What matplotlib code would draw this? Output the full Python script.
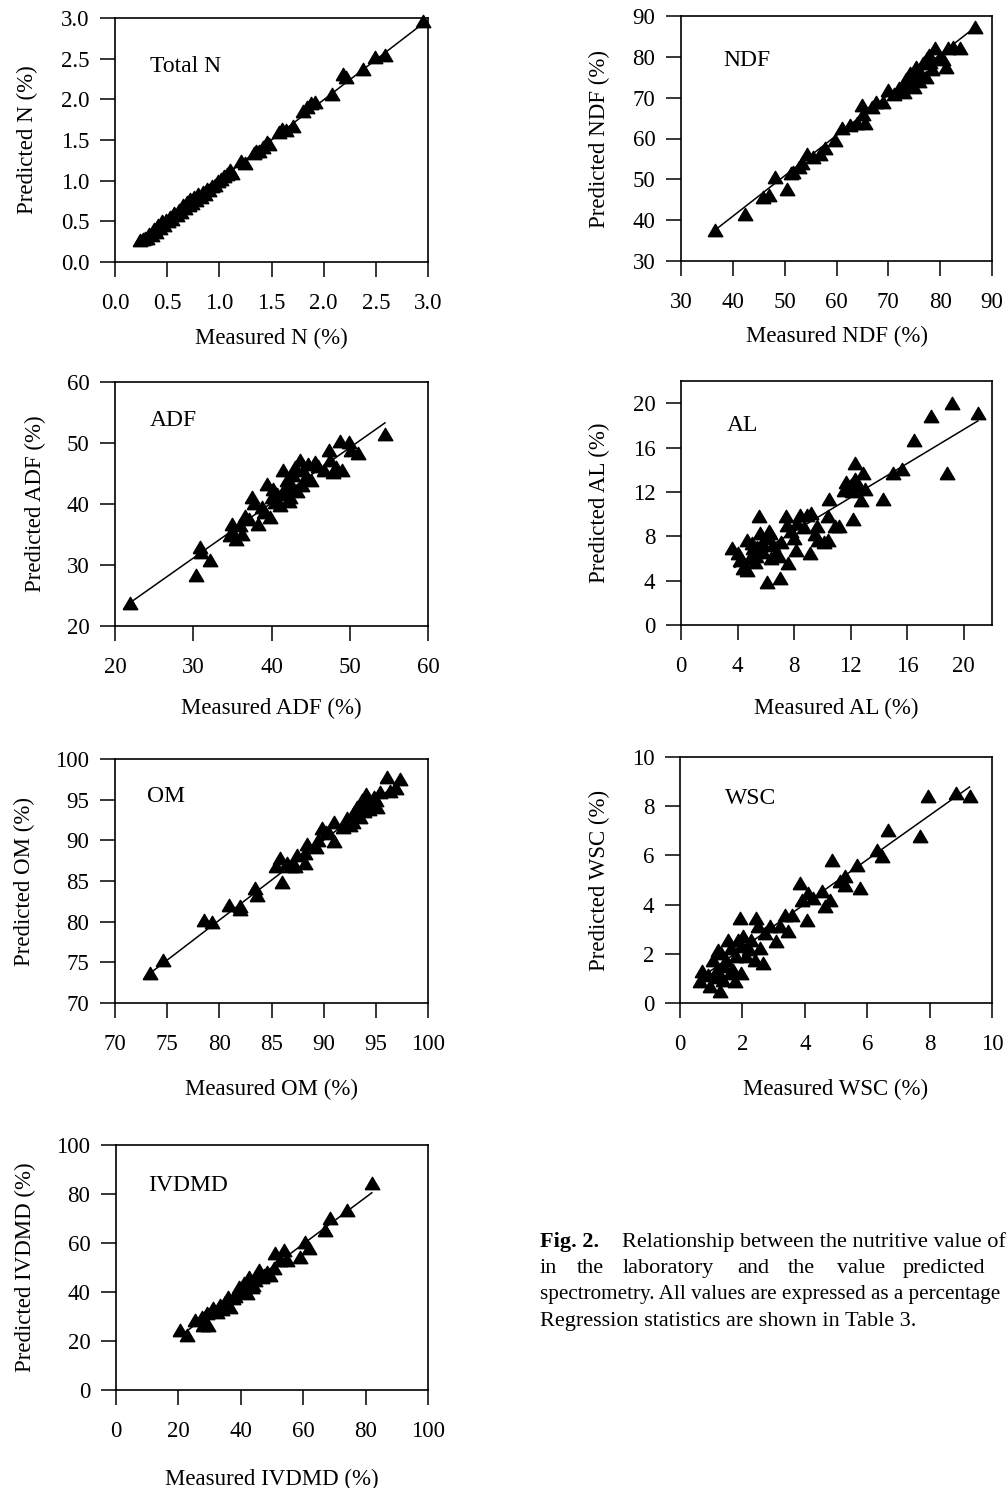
import numpy as np
import matplotlib.pyplot as plt

plt.rcParams["font.family"] = ["Liberation Serif", "DejaVu Serif"]

# ---- data: (measured, predicted) ----
n_points = [
    (0.24, 0.27), (0.27, 0.28), (0.29, 0.30), (0.31, 0.29), (0.33, 0.35), (0.35, 0.33),
    (0.37, 0.40), (0.39, 0.37), (0.41, 0.45), (0.43, 0.42), (0.45, 0.50), (0.47, 0.46),
    (0.49, 0.52), (0.51, 0.50), (0.53, 0.55), (0.55, 0.53), (0.57, 0.60), (0.59, 0.58),
    (0.61, 0.64), (0.63, 0.62), (0.65, 0.70), (0.67, 0.66), (0.69, 0.74), (0.71, 0.70),
    (0.72, 0.78), (0.74, 0.73), (0.76, 0.80), (0.78, 0.76), (0.80, 0.84), (0.82, 0.80),
    (0.84, 0.86), (0.86, 0.84), (0.88, 0.90), (0.90, 0.88), (0.93, 0.94), (0.96, 0.95),
    (0.99, 1.00), (1.02, 1.02), (1.04, 1.06), (1.07, 1.08), (1.10, 1.13), (1.12, 1.10),
    (1.21, 1.24), (1.25, 1.22), (1.33, 1.34), (1.35, 1.37), (1.38, 1.36), (1.42, 1.41),
    (1.46, 1.47), (1.48, 1.45), (1.57, 1.60), (1.60, 1.63), (1.64, 1.62), (1.71, 1.67),
    (1.80, 1.86), (1.84, 1.90), (1.88, 1.95), (1.92, 1.97), (2.08, 2.07), (2.19, 2.31),
    (2.21, 2.27), (2.38, 2.37), (2.49, 2.52), (2.59, 2.54), (2.95, 2.96),
]
ndf_points = [
    (36.6, 37.5), (42.4, 41.6), (45.9, 45.7), (46.9, 46.1), (48.2, 50.6), (50.4, 47.7),
    (51.2, 51.5), (51.7, 51.8), (52.7, 53.1), (53.3, 53.9), (54.3, 56.3), (55.5, 55.5),
    (56.8, 56.3), (57.8, 57.6), (59.7, 59.6), (61.0, 62.5), (62.6, 63.3), (63.9, 63.7),
    (64.9, 68.2), (65.2, 66.1), (65.5, 63.7), (66.8, 67.8), (67.7, 69.0), (69.0, 69.0),
    (70.0, 71.9), (71.0, 71.0), (72.0, 72.3), (72.9, 73.1), (73.5, 74.5), (74.2, 76.0),
    (74.8, 74.3), (75.4, 77.6), (75.0, 72.5), (76.1, 76.4), (76.7, 78.4), (77.2, 75.0),
    (77.4, 79.6), (78.0, 78.8), (78.5, 77.0), (79.0, 82.1), (79.9, 80.0), (81.2, 77.6),
    (81.5, 82.1), (82.5, 82.5), (83.8, 82.1), (86.7, 87.4), (73.0, 71.5), (74.0, 73.0),
    (76.0, 74.0), (77.8, 80.5), (80.5, 79.5),
]
adf_points = [
    (21.9, 23.8), (30.4, 28.3), (30.9, 32.9), (31.0, 32.1), (32.2, 30.8), (34.7, 34.9),
    (34.9, 36.8), (35.4, 34.3), (35.0, 35.5), (36.2, 35.1), (36.6, 38.1), (37.1, 37.6),
    (37.5, 41.1), (37.7, 40.1), (38.3, 36.8), (39.0, 38.7), (39.4, 43.3), (39.8, 37.9),
    (40.0, 41.1), (40.4, 40.3), (40.7, 41.7), (41.1, 39.8), (41.5, 45.5), (41.8, 42.5),
    (42.0, 43.9), (42.2, 40.5), (42.4, 41.1), (42.8, 44.7), (43.0, 46.1), (43.3, 42.2),
    (43.7, 47.2), (43.9, 43.1), (44.3, 44.2), (44.7, 46.6), (45.6, 46.9), (46.7, 45.5),
    (47.3, 48.8), (47.5, 47.2), (47.9, 45.2), (48.8, 50.4), (49.0, 45.5), (49.9, 50.2),
    (50.1, 48.8), (51.1, 48.3), (54.5, 51.5), (36.0, 36.5), (38.8, 39.5), (40.2, 42.5),
    (41.3, 41.8), (42.6, 43.0), (44.0, 45.5), (45.0, 44.0), (46.0, 46.3), (48.2, 46.0),
]
al_points = [
    (3.6, 6.9), (4.0, 6.5), (4.2, 5.9), (4.4, 5.1), (4.7, 5.0), (4.7, 7.7), (5.0, 7.4),
    (5.1, 6.9), (5.2, 5.7), (5.5, 9.8), (5.6, 8.3), (5.7, 7.4), (5.8, 6.6), (6.1, 3.9),
    (6.3, 8.3), (6.5, 7.2), (6.7, 6.5), (6.4, 6.0), (7.0, 4.2), (7.1, 7.5), (7.4, 9.8),
    (7.5, 9.0), (7.6, 5.6), (8.0, 7.8), (8.1, 6.8), (8.2, 9.2), (8.4, 9.9), (8.9, 9.9),
    (9.2, 10.1), (9.1, 6.5), (9.6, 8.9), (9.7, 7.7), (10.1, 7.5), (10.4, 7.7), (10.4, 9.8),
    (10.5, 11.4), (10.9, 8.9), (11.2, 8.9), (11.7, 12.9), (12.0, 12.6), (12.2, 9.6),
    (12.3, 14.6), (12.3, 13.2), (12.5, 12.5), (12.7, 11.3), (12.9, 13.7), (13.0, 12.3),
    (14.3, 11.4), (15.0, 13.7), (15.6, 14.1), (16.5, 16.7), (17.7, 18.8), (18.8, 13.7),
    (19.2, 20.0), (21.0, 19.1), (4.9, 6.0), (5.4, 7.0), (6.0, 7.8), (6.9, 6.2), (7.8, 8.5),
    (8.7, 8.8), (9.5, 8.2), (11.5, 12.2), (12.1, 12.1), (6.2, 8.5), (5.3, 6.2),
]
om_points = [
    (73.4, 73.7), (74.6, 75.3), (78.5, 80.2), (79.3, 80.0), (80.9, 82.1), (82.0, 81.5),
    (82.0, 81.9), (83.4, 84.1), (83.6, 83.3), (85.4, 86.8), (85.8, 87.8), (86.0, 84.9),
    (86.5, 87.2), (86.9, 86.8), (87.3, 86.8), (87.4, 88.2), (88.2, 87.2), (88.2, 88.4),
    (88.4, 89.6), (89.3, 89.2), (89.5, 90.0), (89.8, 91.5), (90.5, 90.9), (91.0, 89.9),
    (91.0, 92.3), (91.9, 91.7), (92.2, 92.7), (92.5, 91.9), (92.9, 93.5), (93.2, 94.1),
    (93.5, 92.9), (93.7, 94.9), (94.0, 94.3), (94.1, 95.7), (94.5, 94.7), (94.8, 95.3),
    (95.1, 94.1), (95.4, 95.9), (96.1, 97.8), (96.4, 96.1), (96.9, 96.4), (97.3, 97.6),
    (90.2, 91.0), (92.8, 92.2), (93.9, 93.6), (94.3, 93.8), (95.0, 95.0),
]
wsc_points = [
    (0.69, 1.29), (0.64, 0.88), (0.91, 1.15), (0.96, 0.68), (1.07, 1.76), (1.17, 1.36),
    (1.28, 0.47), (1.23, 2.17), (1.33, 2.03), (1.39, 0.95), (1.49, 1.76), (1.55, 2.57),
    (1.65, 2.24), (1.71, 1.36), (1.76, 0.88), (1.81, 1.90), (1.92, 3.46), (1.97, 2.30),
    (1.97, 1.22), (2.03, 2.71), (2.13, 1.90), (2.29, 2.57), (2.40, 1.76), (2.45, 3.46),
    (2.51, 3.12), (2.56, 2.24), (2.67, 1.63), (2.72, 2.85), (2.88, 3.12), (3.09, 2.51),
    (3.20, 3.12), (3.36, 3.59), (3.47, 2.91), (3.58, 3.59), (3.84, 4.88), (3.90, 4.20),
    (4.06, 3.39), (4.11, 4.47), (4.27, 4.27), (4.54, 4.54), (4.64, 3.93), (4.80, 4.20),
    (4.86, 5.83), (5.12, 4.95), (5.28, 5.15), (5.28, 4.81), (5.66, 5.62), (5.76, 4.67),
    (6.30, 6.23), (6.46, 5.96), (6.67, 7.05), (7.68, 6.78), (7.95, 8.40), (8.86, 8.54),
    (9.28, 8.40), (1.40, 1.50), (1.60, 1.20), (1.85, 2.55), (2.20, 2.20), (1.15, 1.05),
]
ivdmd_points = [
    (20.5, 24.5), (22.7, 22.4), (25.3, 28.6), (27.5, 29.9), (28.0, 26.5), (29.6, 26.5),
    (29.1, 31.3), (31.2, 33.3), (32.3, 32.0), (33.4, 34.7), (35.0, 36.1), (36.0, 38.1),
    (36.6, 34.0), (37.6, 37.4), (38.7, 40.1), (39.3, 42.2), (40.3, 40.8), (40.9, 43.5),
    (41.9, 39.5), (42.5, 46.3), (43.5, 42.2), (44.6, 44.9), (45.7, 49.0), (46.7, 46.3),
    (48.3, 48.3), (49.4, 46.9), (50.5, 49.7), (51.0, 55.8), (52.6, 53.1), (53.7, 57.1),
    (54.8, 53.1), (59.0, 54.4), (60.6, 60.5), (61.7, 57.8), (67.1, 65.3), (68.7, 70.1),
    (74.0, 73.5), (82.0, 84.4), (38.0, 38.5), (34.0, 33.0), (44.0, 43.0), (47.5, 47.0),
]

# regression line end points (measured, predicted)
n_fit = [(0.24, 0.26), (2.95, 2.93)]
ndf_fit = [(36.6, 37.6), (86.7, 87.2)]
adf_fit = [(21.9, 23.8), (54.5, 53.3)]
al_fit = [(3.8, 5.2), (21.0, 18.4)]
om_fit = [(73.4, 73.7), (97.3, 97.2)]
wsc_fit = [(0.64, 1.0), (9.28, 8.78)]
ivdmd_fit = [(20.5, 22.0), (82.0, 80.5)]

W, H = 1006, 1488
fig = plt.figure(figsize=(W / 100, H / 100), dpi=100)

# frame in pixels: left, top, right, bottom ; title position ; label coords
panels = [
    ("Total N", "N", n_points, n_fit, (0, 3), np.arange(0, 3.01, 0.5), "{:.1f}",
     (115, 18, 428, 262), (0.112, 0.803), -0.270, -0.246),
    ("NDF", "NDF", ndf_points, ndf_fit, (30, 90), np.arange(30, 91, 10), "{:.0f}",
     (681, 16, 992, 261), (0.135, 0.820), -0.265, -0.229),
    ("ADF", "ADF", adf_points, adf_fit, (20, 60), np.arange(20, 61, 10), "{:.0f}",
     (115, 382, 428, 626), (0.112, 0.844), -0.295, -0.221),
    ("AL", "AL", al_points, al_fit, (0, 22), np.arange(0, 21, 4), "{:.0f}",
     (681, 381, 992, 625), (0.148, 0.819), -0.299, -0.229),
    ("OM", "OM", om_points, om_fit, (70, 100), np.arange(70, 101, 5), "{:.0f}",
     (115, 759, 428, 1003), (0.102, 0.848), -0.311, -0.255),
    ("WSC", "WSC", wsc_points, wsc_fit, (0, 10), np.arange(0, 11, 2), "{:.0f}",
     (680, 757, 992, 1003), (0.144, 0.833), -0.309, -0.225),
    ("IVDMD", "IVDMD", ivdmd_points, ivdmd_fit, (0, 100), np.arange(0, 101, 20), "{:.0f}",
     (116, 1145, 428, 1390), (0.103, 0.836), -0.320, -0.256),
]

tri = [(-1, -0.85), (1, -0.85), (0, 0.85), (-1, -0.85)]

for title, short, pts, fit, lim, ticks, fmt, frame, tpos, xl_y, yl_x in panels:
    l, t, r, b = frame
    ax = fig.add_axes([l / W, 1 - b / H, (r - l) / W, (b - t) / H])
    pts = np.array(pts)
    fit = np.array(fit)
    ax.plot(fit[:, 0], fit[:, 1], color="black", lw=1.1, zorder=2)
    ax.plot(pts[:, 0], pts[:, 1], linestyle="none", marker=tri, ms=10.5,
            color="black", zorder=3, clip_on=False)
    ax.set_xlim(lim)
    ax.set_ylim(lim)
    ax.set_xticks(ticks)
    ax.set_yticks(ticks)
    labels = [fmt.format(v) for v in ticks]
    ax.set_xticklabels(labels)
    ax.set_yticklabels(labels)
    ax.tick_params(direction="out", length=10.5, width=1.1, labelsize=16.5)
    ax.tick_params(axis="x", pad=12)
    ax.tick_params(axis="y", pad=8)
    for s in ax.spines.values():
        s.set_linewidth(1.2)
    ax.text(tpos[0], tpos[1], title, transform=ax.transAxes, fontsize=17,
            ha="left", va="center")
    ax.set_xlabel(f"Measured {short} (%)", fontsize=16.5)
    ax.set_ylabel(f"Predicted {short} (%)", fontsize=16.5)
    ax.xaxis.set_label_coords(0.5, xl_y)
    ax.yaxis.set_label_coords(yl_x, 0.5)

# caption (lines 1-2 are justified in the source, so words are placed one by one)
cap_size = 16
fig.text(540 / W, 1 - 1247 / H, "Fig. 2.", fontsize=cap_size, fontweight="bold",
         va="baseline", ha="left")
fig.text(622 / W, 1 - 1247 / H, "Relationship between the nutritive value of",
         fontsize=cap_size, va="baseline", ha="left")
line2 = [("in", 540), ("the", 577), ("laboratory", 623), ("and", 737),
         ("the", 788), ("value", 837), ("predicted", 903)]
for word, xp in line2:
    fig.text(xp / W, 1 - 1273 / H, word, fontsize=cap_size, va="baseline", ha="left")
fig.text(540 / W, 1 - 1299 / H, "spectrometry. All values are expressed as a percentage",
         fontsize=15.2, va="baseline", ha="left")
fig.text(540 / W, 1 - 1326 / H, "Regression statistics are shown in Table 3.",
         fontsize=cap_size, va="baseline", ha="left")

fig.savefig("out.png", dpi=100)
